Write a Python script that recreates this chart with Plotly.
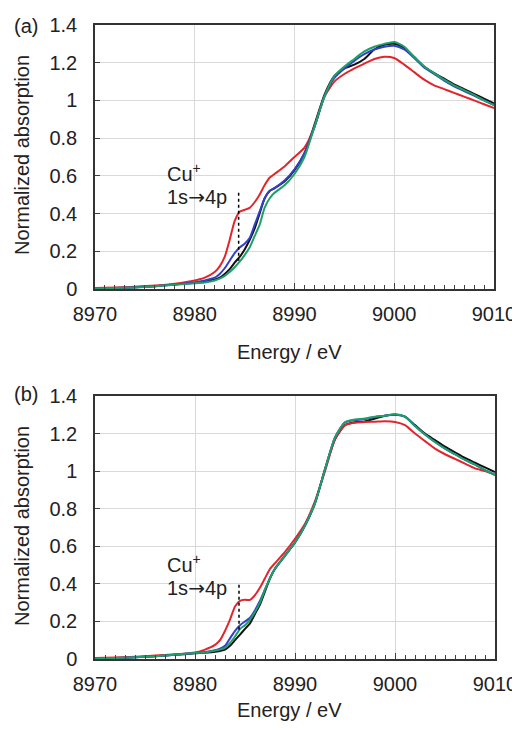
import plotly.graph_objects as go

# energy grid (eV)
energy = [8970, 8972, 8974, 8976, 8978, 8980, 8981, 8982, 8982.5, 8983, 8983.5,
          8984, 8984.5, 8985, 8985.5, 8986, 8986.5, 8987, 8987.5, 8988, 8989,
          8990, 8991, 8992, 8993, 8994, 8995, 8996, 8997, 8998, 8999, 9000,
          9001, 9002, 9003, 9004, 9005, 9006, 9007, 9008, 9009, 9010]

# panel (a)
a_black = [0.003, 0.005, 0.009, 0.015, 0.024, 0.033, 0.04, 0.05, 0.06, 0.08, 0.105,
           0.14, 0.17, 0.21, 0.26, 0.32, 0.40, 0.48, 0.52, 0.535, 0.57,
           0.63, 0.72, 0.87, 1.03, 1.13, 1.17, 1.19, 1.22, 1.27, 1.295, 1.30,
           1.28, 1.23, 1.18, 1.145, 1.115, 1.085, 1.06, 1.035, 1.01, 0.985]
a_red = [0.005, 0.008, 0.012, 0.018, 0.028, 0.045, 0.06, 0.09, 0.12, 0.17, 0.26,
         0.36, 0.41, 0.42, 0.43, 0.46, 0.50, 0.55, 0.59, 0.61, 0.65,
         0.70, 0.75, 0.86, 1.02, 1.10, 1.14, 1.17, 1.195, 1.22, 1.232, 1.225,
         1.19, 1.15, 1.11, 1.08, 1.06, 1.04, 1.02, 1.0, 0.98, 0.96]
a_blue = [0.003, 0.005, 0.009, 0.015, 0.024, 0.035, 0.045, 0.06, 0.08, 0.11, 0.15,
          0.19, 0.22, 0.24, 0.27, 0.34, 0.41, 0.48, 0.52, 0.535, 0.575,
          0.635, 0.72, 0.86, 1.02, 1.12, 1.17, 1.21, 1.245, 1.27, 1.285, 1.29,
          1.27, 1.225, 1.175, 1.14, 1.105, 1.075, 1.05, 1.025, 1.0, 0.975]
a_green = [0.003, 0.005, 0.008, 0.014, 0.022, 0.03, 0.035, 0.045, 0.055, 0.07, 0.09,
           0.115, 0.145, 0.18, 0.22, 0.28, 0.34, 0.43, 0.48, 0.51, 0.55,
           0.61, 0.70, 0.86, 1.02, 1.13, 1.18, 1.22, 1.26, 1.285, 1.30, 1.31,
           1.285, 1.23, 1.18, 1.145, 1.11, 1.08, 1.055, 1.03, 1.0, 0.975]

# panel (b)
b_black = [0.003, 0.005, 0.009, 0.015, 0.022, 0.03, 0.033, 0.038, 0.043, 0.05, 0.07,
           0.10, 0.13, 0.16, 0.19, 0.24, 0.29, 0.36, 0.43, 0.48, 0.55,
           0.62, 0.71, 0.83, 1.01, 1.17, 1.245, 1.26, 1.265, 1.28, 1.295, 1.30,
           1.29, 1.245, 1.20, 1.165, 1.13, 1.10, 1.07, 1.045, 1.02, 0.995]
b_red = [0.005, 0.008, 0.012, 0.018, 0.025, 0.035, 0.05, 0.075, 0.10, 0.15, 0.21,
         0.28, 0.31, 0.315, 0.315, 0.34, 0.38, 0.43, 0.48, 0.51, 0.57,
         0.64, 0.72, 0.84, 1.00, 1.17, 1.245, 1.258, 1.262, 1.263, 1.265, 1.262,
         1.245, 1.20, 1.16, 1.12, 1.09, 1.065, 1.04, 1.015, 1.0, 0.98]
b_blue = [0.003, 0.005, 0.009, 0.015, 0.023, 0.032, 0.037, 0.047, 0.055, 0.07, 0.11,
          0.15, 0.18, 0.20, 0.22, 0.26, 0.31, 0.37, 0.43, 0.48, 0.55,
          0.62, 0.71, 0.83, 1.01, 1.18, 1.26, 1.272, 1.278, 1.288, 1.295, 1.302,
          1.29, 1.24, 1.195, 1.155, 1.12, 1.09, 1.06, 1.035, 1.005, 0.98]
b_green = [0.003, 0.005, 0.009, 0.015, 0.023, 0.032, 0.035, 0.045, 0.05, 0.06, 0.085,
           0.12, 0.16, 0.18, 0.21, 0.25, 0.30, 0.37, 0.43, 0.48, 0.55,
           0.62, 0.71, 0.83, 1.01, 1.18, 1.26, 1.275, 1.28, 1.29, 1.295, 1.303,
           1.29, 1.24, 1.195, 1.155, 1.12, 1.09, 1.06, 1.035, 1.005, 0.98]

# Cu+ 1s->4p marker
peak_energy = 8984.4
a_marker = [0.51, 0.15]
b_marker = [0.395, 0.15]

x_ticks = [8970, 8980, 8990, 9000, 9010]
y_ticks = [0, 0.2, 0.4, 0.6, 0.8, 1, 1.2, 1.4]
y_ticktext = ["0", "0.2", "0.4", "0.6", "0.8", "1", "1.2", "1.4"]

colors = {"black": "#111111", "red": "#e3252b", "blue": "#3340c8", "green": "#1f9e68"}
FONT = "Liberation Sans, Arial, sans-serif"

# page body adds an 8px margin, positions below are relative to the figure
W, H = 512, 714

fig = go.Figure()

panels = [
    ("x", "y", a_black, a_red, a_blue, a_green, a_marker),
    ("x2", "y2", b_black, b_red, b_blue, b_green, b_marker),
]
for xa, ya, blk, red, blu, grn, mk in panels:
    for name, vals in [("black", blk), ("red", red), ("blue", blu), ("green", grn)]:
        fig.add_trace(go.Scatter(x=energy, y=vals, mode="lines", xaxis=xa, yaxis=ya,
                                 line=dict(color=colors[name], width=2, shape="spline", smoothing=0.6),
                                 showlegend=False))
    fig.add_trace(go.Scatter(x=[peak_energy, peak_energy], y=mk, mode="lines", xaxis=xa, yaxis=ya,
                             line=dict(color="black", width=1.5, dash="dot"), showlegend=False))

xcommon = dict(range=[8970, 9010], tickvals=x_ticks, ticks="inside", ticklen=6, tickcolor="#404040",
               showline=True, linecolor="#333333", linewidth=1.5, mirror=True, automargin=False,
               showgrid=True, gridcolor="#d9d9d9", gridwidth=1, zeroline=False,
               minor=dict(dtick=1, ticks="inside", ticklen=4, tickcolor="#404040", showgrid=False),
               tickfont=dict(size=20, color="#222"), ticklabelstandoff=6)
ycommon = dict(range=[0, 1.4], tickvals=y_ticks, ticktext=y_ticktext, ticks="inside", ticklen=5,
               tickcolor="#404040", showline=True, linecolor="#333333", linewidth=1.5, mirror=True,
               automargin=False, showgrid=True, gridcolor="#d9d9d9", gridwidth=1, zeroline=False,
               tickfont=dict(size=20, color="#222"), ticklabelstandoff=12)

fig.update_layout(
    width=W, height=H,
    margin=dict(l=0, r=0, t=0, b=0, autoexpand=False),
    paper_bgcolor="white", plot_bgcolor="white",
    font=dict(family=FONT, size=20, color="#222"),
    xaxis=dict(domain=[87 / W, 486 / W], anchor="y", **xcommon),
    yaxis=dict(domain=[1 - 281 / H, 1 - 17 / H], anchor="x", **ycommon),
    xaxis2=dict(domain=[87 / W, 487 / W], anchor="y2", **xcommon),
    yaxis2=dict(domain=[1 - 651 / H, 1 - 388 / H], anchor="x2", **ycommon),
)

arrow = "1s<span style='font-family:DejaVu Sans'>→</span>4p"
ann = []
for yr, xr, cu_y, tr_y in [("y", "x", 0.62, 0.49), ("y2", "x2", 0.51, 0.38)]:
    ann.append(dict(x=8977.0, y=cu_y, xref=xr, yref=yr, text="Cu<sup>+</sup>", showarrow=False,
                    xanchor="left", yanchor="middle", font=dict(size=20)))
    ann.append(dict(x=8977.0, y=tr_y, xref=xr, yref=yr, text=arrow, showarrow=False,
                    xanchor="left", yanchor="middle", font=dict(size=20)))
for label, ly, ty, ey in [("(a)", 18, 147, 344), ("(b)", 386, 518, 702)]:
    ann.append(dict(x=17.5 / W, y=1 - ly / H, xref="paper", yref="paper", text=label, showarrow=False,
                    xanchor="center", yanchor="middle", font=dict(size=20)))
    ann.append(dict(x=14 / W, y=1 - ty / H, xref="paper", yref="paper", text="Normalized absorption",
                    textangle=-90, showarrow=False, xanchor="center", yanchor="middle", font=dict(size=20)))
    ann.append(dict(x=281 / W, y=1 - ey / H, xref="paper", yref="paper", text="Energy / eV",
                    showarrow=False, xanchor="center", yanchor="middle", font=dict(size=20)))
fig.update_layout(annotations=ann)

fig.write_html("out.html")
